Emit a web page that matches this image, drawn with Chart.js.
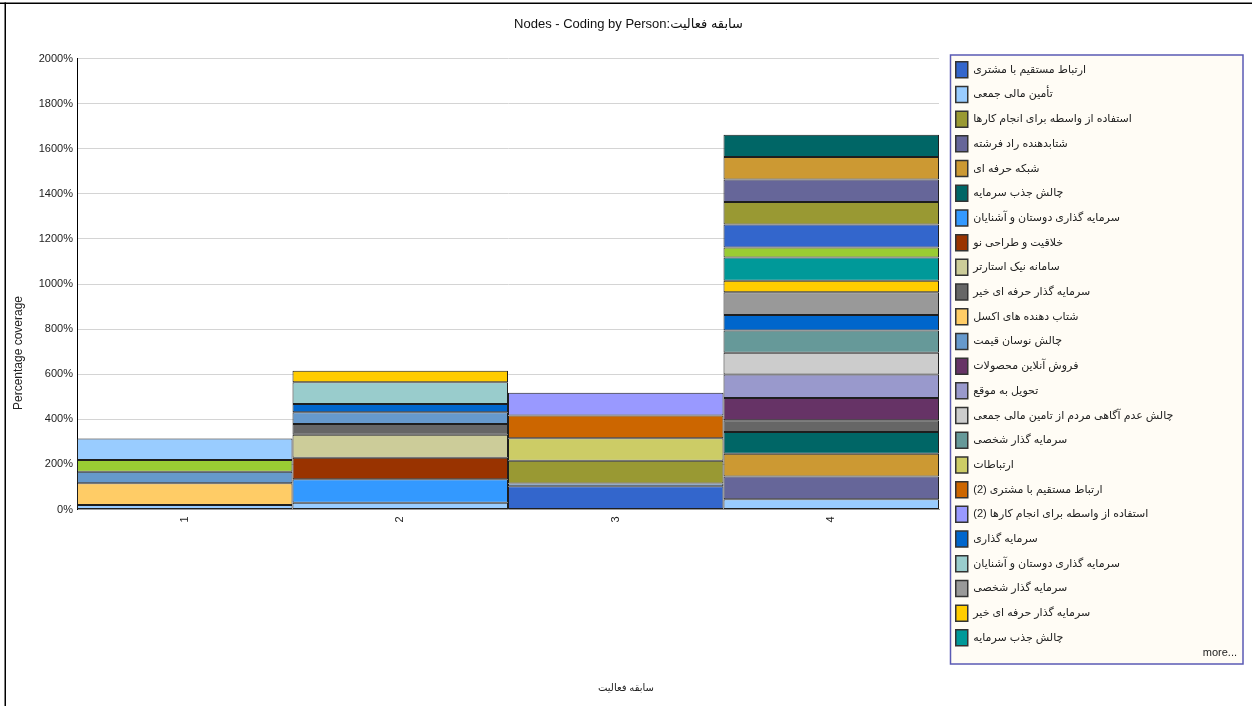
<!DOCTYPE html>
<html>
<head>
<meta charset="utf-8">
<title>Nodes - Coding by Person</title>
<script src="https://cdn.jsdelivr.net/npm/chart.js@4.4.1/dist/chart.umd.min.js"></script>
<style>
  html, body { margin: 0; padding: 0; background: #ffffff; overflow: hidden; }
  canvas { display: block; }
</style>
</head>
<body>
<canvas id="chart" width="1252" height="706"></canvas>
<script>
// Cases (سابقه فعالیت) on the x axis
const categories = ['1', '2', '3', '4'];

// Coded nodes, in stacking order (bottom to top)
const nodeNames = [
  'ارتباط مستقیم با مشتری',
  'تأمین مالی جمعی',
  'استفاده از واسطه برای انجام کارها',
  'شتابدهنده راد فرشته',
  'شبکه حرفه ای',
  'چالش جذب سرمایه',
  'سرمایه گذاری دوستان و آشنایان',
  'خلاقیت و طراحی نو',
  'سامانه نیک استارتر',
  'سرمایه گذار حرفه ای خیر',
  'شتاب دهنده های اکسل',
  'چالش نوسان قیمت',
  'فروش آنلاین محصولات',
  'تحویل به موقع',
  'چالش عدم آگاهی مردم از تامین مالی جمعی',
  'سرمایه گذار شخصی',
  'ارتباطات',
  'ارتباط مستقیم با مشتری (2)',
  'استفاده از واسطه برای انجام کارها (2)',
  'سرمایه گذاری',
  'سرمایه گذاری دوستان و آشنایان',
  'سرمایه گذار شخصی',
  'سرمایه گذار حرفه ای خیر',
  'چالش جذب سرمایه',
  'Node 25', 'Node 26', 'Node 27', 'Node 28', 'Node 29', 'Node 30', 'Node 31'
];

const nodeColors = [
  '#3366CC', '#99CCFF', '#999933', '#666699', '#CC9933', '#006666',
  '#3399FF', '#993300', '#CCCC99', '#666666', '#FFCC66', '#6699CC',
  '#663366', '#9999CC', '#CCCCCC', '#669999', '#CCCC66', '#CC6600',
  '#9999FF', '#0066CC', '#99CCCC', '#999999', '#FFCC00', '#009999',
  '#99CC33', '#3366CC', '#99CCFF', '#999933', '#666699', '#CC9933', '#006666'
];

// Percentage coverage of each node, one array per case (same order as nodeNames)
const coverageCase1 = [0, 20, 0, 0, 0, 0, 0, 0, 0, 0, 96, 51, 0, 0, 0, 0, 0, 0, 0, 0, 0, 0, 0, 0, 52, 0, 96, 0, 0, 0, 0];
const coverageCase2 = [0, 30, 0, 0, 0, 0, 104, 96, 102, 47, 0, 52, 0, 0, 0, 0, 0, 0, 0, 37, 96, 0, 51, 0, 0, 0, 0, 0, 0, 0, 0];
const coverageCase3 = [103, 12, 101, 0, 0, 0, 0, 0, 0, 0, 0, 0, 0, 0, 0, 0, 100, 101, 101, 0, 0, 0, 0, 0, 0, 0, 0, 0, 0, 0, 0];
const coverageCase4 = [0, 46, 0, 100, 101, 97, 0, 0, 0, 52, 0, 0, 99, 104, 96, 99, 0, 0, 0, 68, 0, 101, 51, 104, 44, 102, 0, 100, 99, 100, 99];

const legendShown = 24;

const FONT = "'Liberation Sans', 'DejaVu Sans', Arial, sans-serif";
Chart.defaults.font.family = FONT;
Chart.defaults.color = '#222222';

const datasets = nodeNames.map((name, i) => ({
  label: name,
  data: [coverageCase1[i], coverageCase2[i], coverageCase3[i], coverageCase4[i]],
  backgroundColor: nodeColors[i],
  borderColor: '#1e1e1e',
  borderWidth: 1,
  borderSkipped: false,
  inflateAmount: 0,
  barPercentage: 1,
  categoryPercentage: 1
}));

// Keeps the legend column at a fixed width
const legendWidthPlugin = {
  id: 'legendWidth',
  beforeLayout(chart, args, opts) {
    const lg = chart.legend;
    if (lg && !lg.__fixedWidth) {
      const fit = lg.fit;
      lg.fit = function () {
        fit.call(this);
        if (this.options.display) this.width = opts.width;
      };
      lg.__fixedWidth = true;
    }
  }
};

// Legend panel, outer rules, axis captions and the "more..." link
const decorPlugin = {
  id: 'decor',
  beforeDraw(chart, args, o) {
    const ctx = chart.ctx;
    const lg = chart.legend;
    ctx.save();
    const x = lg.left + o.panelInsetX;
    const y = lg.top + o.panelInsetY;
    ctx.fillStyle = o.panelFill;
    ctx.fillRect(x, y, o.panelWidth, o.panelHeight);
    ctx.strokeStyle = o.panelBorder;
    ctx.lineWidth = 1.5;
    ctx.strokeRect(x, y, o.panelWidth, o.panelHeight);
    ctx.restore();
  },
  afterDraw(chart, args, o) {
    const ctx = chart.ctx;
    const lg = chart.legend;
    const w = chart.width, h = chart.height;
    ctx.save();
    // outer rules
    ctx.fillStyle = '#000000';
    ctx.fillRect(0, 2.5, w, 1.5);
    ctx.fillRect(4.5, 2.5, 1.5, h);

    // "more..." under the legend entries
    ctx.fillStyle = '#222222';
    ctx.font = '11px ' + FONT;
    ctx.textAlign = 'right';
    ctx.textBaseline = 'middle';
    ctx.fillText(o.moreText, lg.left + o.panelInsetX + o.panelWidth - 6, lg.top + o.panelInsetY + o.panelHeight - 11);

    // y axis caption, centred on the page height
    ctx.save();
    ctx.translate(o.yTitleX, h / 2);
    ctx.rotate(-Math.PI / 2);
    ctx.textAlign = 'center';
    ctx.font = '12px ' + FONT;
    ctx.fillText(o.yTitle, 0, 0);
    ctx.restore();

    // x axis caption, centred on the page width
    ctx.textAlign = 'center';
    ctx.font = '10px ' + FONT;
    ctx.fillText(o.xTitle, w / 2, o.xTitleY);
    ctx.restore();
  }
};

new Chart(document.getElementById('chart'), {
  type: 'bar',
  data: { labels: categories, datasets },
  plugins: [legendWidthPlugin, decorPlugin],
  options: {
    responsive: false,
    animation: false,
    devicePixelRatio: 1,
    layout: { padding: { top: 4, left: 5, right: 0, bottom: 8 } },
    plugins: {
      title: {
        display: true,
        text: 'Nodes - Coding by Person:سابقه فعالیت',
        color: '#111111',
        font: { size: 13, weight: 'normal' },
        padding: { top: 12.2, bottom: 26.7 }
      },
      legend: {
        display: true,
        position: 'right',
        align: 'start',
        title: { display: true, text: '', font: { size: 10 }, padding: { top: 37.05, bottom: 0 } },
        labels: {
          boxWidth: 12,
          boxHeight: 16,
          padding: 8.7,
          color: '#222222',
          font: { size: 11 },
          filter: (item) => item.datasetIndex < legendShown,
          generateLabels(chart) {
            return Chart.defaults.plugins.legend.labels.generateLabels(chart)
              .map(item => Object.assign(item, { lineWidth: 1.5, strokeStyle: '#333333' }));
          }
        }
      },
      tooltip: { enabled: false },
      legendWidth: { width: 304.95 },
      decor: {
        panelInsetX: 3.45,
        panelInsetY: 51,
        panelWidth: 292.5,
        panelHeight: 609,
        panelFill: '#FFFCF5',
        panelBorder: '#5A5AB4',
        moreText: 'more...',
        yTitle: 'Percentage coverage',
        yTitleX: 19,
        xTitle: 'سابقه فعالیت',
        xTitleY: 688
      }
    },
    scales: {
      x: {
        stacked: true,
        grid: { display: false, drawTicks: false },
        border: { display: true, color: '#9a9a9a', width: 1 },
        ticks: { minRotation: 90, maxRotation: 90, padding: 7, font: { size: 11 }, color: '#222222' },
        afterFit: (s) => { s.height = 188.5; }
      },
      y: {
        stacked: true,
        min: 0,
        max: 2000,
        grid: { color: '#d4d4d4', lineWidth: 1, drawTicks: false },
        border: { display: true, color: '#000000', width: 1 },
        ticks: { stepSize: 200, padding: 4, font: { size: 11 }, color: '#222222', callback: (v) => v + '%' },
        afterFit: (s) => { s.width = 72; }
      },
      gap: {
        type: 'linear',
        position: 'right',
        display: true,
        grid: { display: false, drawTicks: false },
        border: { display: false },
        ticks: { display: false },
        afterFit: (s) => { s.width = 8.05; }
      }
    }
  }
});
</script>
</body>
</html>
